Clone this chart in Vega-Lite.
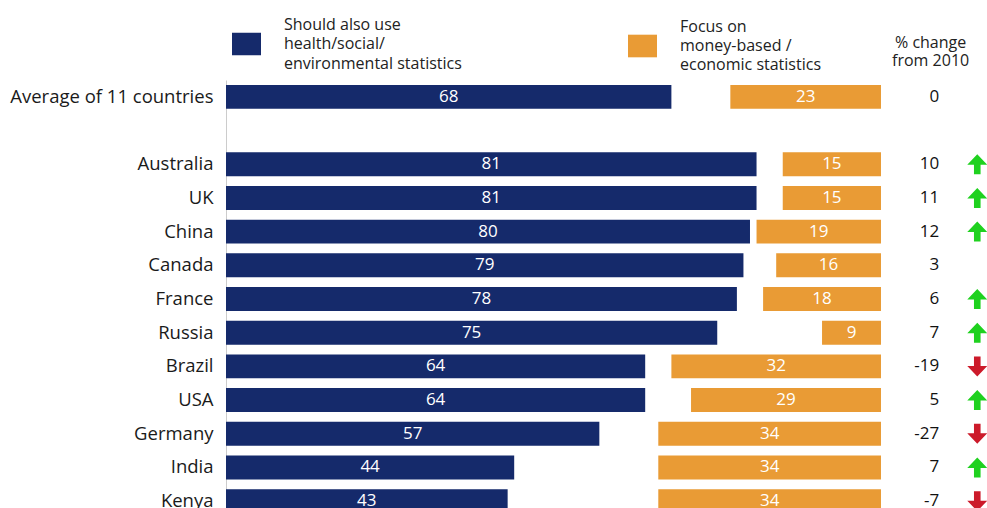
{
  "$schema": "https://vega.github.io/schema/vega-lite/v6.json",
  "width": 761,
  "height": 428,
  "autosize": {"type": "none"},
  "padding": {"left": 226, "top": 80, "right": 0, "bottom": 0},
  "background": "white",
  "config": {"view": {"stroke": null}, "font": "Open Sans"},
  "data": {
    "values": [
      {"country": "Average of 11 countries", "health": 68, "money": 23, "change": 0, "dir": "none"},
      {"country": "Australia", "health": 81, "money": 15, "change": 10, "dir": "up"},
      {"country": "UK", "health": 81, "money": 15, "change": 11, "dir": "up"},
      {"country": "China", "health": 80, "money": 19, "change": 12, "dir": "up"},
      {"country": "Canada", "health": 79, "money": 16, "change": 3, "dir": "none"},
      {"country": "France", "health": 78, "money": 18, "change": 6, "dir": "up"},
      {"country": "Russia", "health": 75, "money": 9, "change": 7, "dir": "up"},
      {"country": "Brazil", "health": 64, "money": 32, "change": -19, "dir": "down"},
      {"country": "USA", "health": 64, "money": 29, "change": 5, "dir": "up"},
      {"country": "Germany", "health": 57, "money": 34, "change": -27, "dir": "down"},
      {"country": "India", "health": 44, "money": 34, "change": 7, "dir": "up"},
      {"country": "Kenya", "health": 43, "money": 34, "change": -7, "dir": "down"}
    ]
  },
  "encoding": {
    "y": {
      "field": "country",
      "type": "nominal",
      "sort": null,
      "title": null,
      "scale": {
        "domain": ["Average of 11 countries", " ", "Australia", "UK", "China", "Canada", "France", "Russia", "Brazil", "USA", "Germany", "India", "Kenya"],
        "range": [0, 438],
        "paddingInner": 0.29,
        "paddingOuter": 0.145
      },
      "axis": {
        "ticks": false,
        "domain": true,
        "domainColor": "#cccccc",
        "domainWidth": 1,
        "labelPadding": 13,
        "labelFontSize": 18.5,
        "labelColor": "#1a1a1a",
        "labelFont": "Open Sans",
        "labelLimit": 300,
        "grid": false
      }
    }
  },
  "layer": [
    {
      "mark": {"type": "bar"},
      "encoding": {
        "x": {"field": "health", "type": "quantitative", "scale": {"domain": [0, 116.185], "nice": false, "zero": false}, "axis": null},
        "color": {
          "datum": "Should also use|health/social/|environmental statistics",
          "scale": {"range": ["#152a6b"]},
          "legend": {
            "orient": "none",
            "legendX": 6,
            "legendY": -66,
            "title": null,
            "clipHeight": 60,
            "symbolType": "M-1,-0.78L1,-0.78L1,0.78L-1,0.78Z",
            "symbolSize": 841,
            "symbolStrokeWidth": 0,
            "symbolOpacity": 1,
            "labelExpr": "split(datum.label, '|')",
            "labelFontSize": 16,
            "labelFont": "Open Sans",
            "labelOffset": 23,
            "labelColor": "#222222",
            "labelLimit": 400,
            "encode": {"labels": {"update": {"lineHeight": {"value": 19.5}, "dy": {"value": -19.5}}}}
          }
        }
      }
    },
    {
      "mark": {"type": "bar"},
      "encoding": {
        "x": {"field": "money", "type": "quantitative", "scale": {"domain": [-16.185, 100], "nice": false, "zero": false, "reverse": true}, "axis": null},
        "fill": {
          "datum": "Focus on|money-based /|economic statistics",
          "scale": {"range": ["#e99b35"]},
          "legend": {
            "orient": "none",
            "legendX": 402,
            "legendY": -64,
            "title": null,
            "clipHeight": 60,
            "symbolType": "M-1,-0.78L1,-0.78L1,0.78L-1,0.78Z",
            "symbolSize": 841,
            "symbolStrokeWidth": 0,
            "symbolOpacity": 1,
            "labelExpr": "split(datum.label, '|')",
            "labelFontSize": 16,
            "labelFont": "Open Sans",
            "labelOffset": 23,
            "labelColor": "#222222",
            "labelLimit": 400,
            "encode": {"labels": {"update": {"lineHeight": {"value": 19}, "dy": {"value": -19}}}}
          }
        }
      }
    },
    {
      "mark": {"type": "text", "color": "white", "fontSize": 17, "baseline": "middle", "align": "center"},
      "encoding": {
        "x": {"field": "health", "type": "quantitative", "scale": {"domain": [0, 232.37], "nice": false, "zero": false}, "axis": null},
        "text": {"field": "health", "type": "quantitative"}
      }
    },
    {
      "mark": {"type": "text", "color": "white", "fontSize": 17, "baseline": "middle", "align": "center"},
      "encoding": {
        "x": {"field": "money", "type": "quantitative", "scale": {"domain": [-32.37, 200], "nice": false, "zero": false, "reverse": true}, "axis": null},
        "text": {"field": "money", "type": "quantitative"}
      }
    },
    {
      "mark": {"type": "text", "color": "#111111", "fontSize": 17, "baseline": "middle", "align": "right"},
      "encoding": {
        "x": {
          "datum": 108.9,
          "type": "quantitative",
          "scale": {"domain": [0, 116.185], "nice": false, "zero": false},
          "axis": {
            "orient": "top",
            "values": [107.5],
            "labelExpr": "['% change', 'from 2010']",
            "ticks": false,
            "domain": false,
            "grid": false,
            "title": null,
            "labelPadding": 30,
            "labelFontSize": 16,
            "labelLineHeight": 18,
            "labelFont": "Open Sans",
            "labelColor": "#222222",
            "labelOverlap": false,
            "labelBound": false,
            "labelFlush": false
          }
        },
        "text": {"field": "change", "type": "nominal"}
      }
    },
    {
      "transform": [{"filter": "datum.dir === 'up'"}],
      "mark": {"type": "point", "shape": "M0,-1L1,0.05L0.33,0.05L0.33,1L-0.33,1L-0.33,0.05L-1,0.05Z", "filled": true, "color": "#1fd11f", "opacity": 1, "size": 400, "strokeWidth": 0},
      "encoding": {
        "x": {"datum": 114.7, "type": "quantitative", "scale": {"domain": [0, 116.185], "nice": false, "zero": false}, "axis": null}
      }
    },
    {
      "transform": [{"filter": "datum.dir === 'down'"}],
      "mark": {"type": "point", "shape": "M0,1L1,-0.05L0.33,-0.05L0.33,-1L-0.33,-1L-0.33,-0.05L-1,-0.05Z", "filled": true, "color": "#cc1a2a", "opacity": 1, "size": 400, "strokeWidth": 0},
      "encoding": {
        "x": {"datum": 114.7, "type": "quantitative", "scale": {"domain": [0, 116.185], "nice": false, "zero": false}, "axis": null}
      }
    }
  ],
  "resolve": {"scale": {"x": "independent"}}
}
